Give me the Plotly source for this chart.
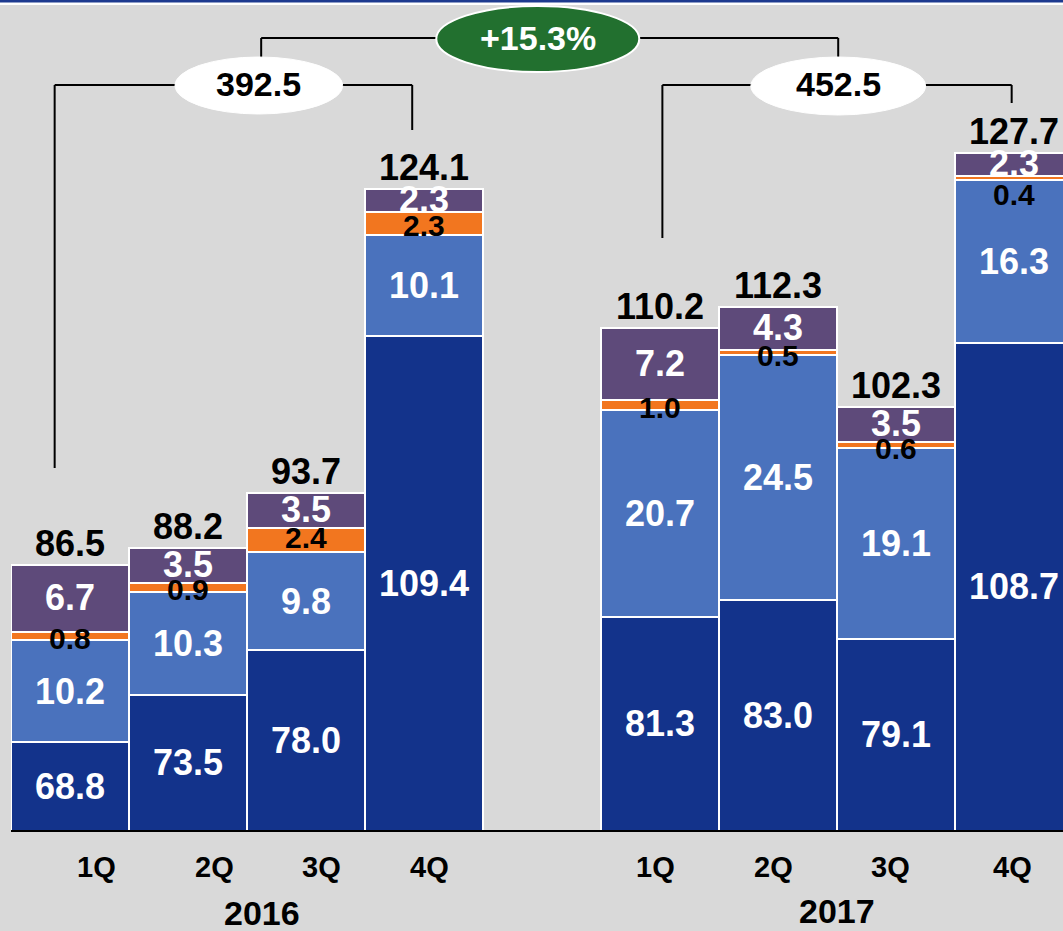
import plotly.graph_objects as go

# ---------------- data ----------------
quarters = ["1Q", "2Q", "3Q", "4Q", "1Q", "2Q", "3Q", "4Q"]
years = ["2016", "2017"]
navy = [68.8, 73.5, 78.0, 109.4, 81.3, 83.0, 79.1, 108.7]
lightblue = [10.2, 10.3, 9.8, 10.1, 20.7, 24.5, 19.1, 16.3]
orange = [0.8, 0.9, 2.4, 2.3, 1.0, 0.5, 0.6, 0.4]
purple = [6.7, 3.5, 3.5, 2.3, 7.2, 4.3, 3.5, 2.3]
totals = [86.5, 88.2, 93.7, 124.1, 110.2, 112.3, 102.3, 127.7]
annual_totals = [392.5, 452.5]
growth_label = "+15.3%"

# ---------------- layout helpers ----------------
slots = [0, 1, 2, 3, 5, 6, 7, 8]          # one empty slot between years
Y0 = 60                                    # truncated axis base
C_NAVY, C_LB, C_OR, C_PU = "#13338b", "#4a72bd", "#f2761f", "#5e4a7a"
BG = "#d9d9d9"
FONT = "Liberation Sans, Arial, sans-serif"

fig = go.Figure()
for vals, col in [(navy, C_NAVY), (lightblue, C_LB), (orange, C_OR), (purple, C_PU)]:
    fig.add_trace(go.Bar(x=slots, y=vals, width=1, marker=dict(color=col, line=dict(color="white", width=2)),
                         showlegend=False, hoverinfo="skip"))

ann = []
def lab(x, y, t, color, size=36, yshift=0, xshift=0, xref="x", yref="y"):
    ann.append(dict(x=x, y=y, xref=xref, yref=yref, text=t, showarrow=False, xshift=xshift, yshift=yshift,
                    font=dict(family=FONT, size=size, color=color, weight="bold"), yanchor="middle", xanchor="center"))

orange_shift = [-2, -2, 3, -2, -2, -3, -3, -16]
for i, s in enumerate(slots):
    b0 = Y0
    t0 = navy[i]
    lab(s, (b0 + t0) / 2, f"{navy[i]:.1f}", "white")
    b1 = t0; t1 = b1 + lightblue[i]
    lab(s, (b1 + t1) / 2, f"{lightblue[i]:.1f}", "white")
    b2 = t1; t2 = b2 + orange[i]
    lab(s, (b2 + t2) / 2, f"{orange[i]:.1f}", "black", size=30, yshift=orange_shift[i])
    b3 = t2; t3 = b3 + purple[i]
    lab(s, (b3 + t3) / 2, f"{purple[i]:.1f}", "white", yshift=1)
    lab(s, totals[i], f"{totals[i]:.1f}", "black", yshift=22)

# quarter labels and years
q_xshift = [26, 26, 15, 5, -5, -5, -6, -2]
for i, s in enumerate(slots):
    lab(s, -0.044, quarters[i], "black", size=29, xshift=q_xshift[i], yref="paper")
lab(1.5, -0.10, years[0], "black", size=34, xshift=15, yref="paper")
lab(6.5, -0.097, years[1], "black", size=34, yref="paper")

# brackets
shapes = []
def line(x0, y0, x1, y1):
    shapes.append(dict(type="line", x0=x0, y0=y0, x1=x1, y1=y1, xref="x", yref="y",
                       line=dict(color="black", width=2)))

HY = 134.5
line(-0.13, 96.2, -0.13, HY); line(-0.13, HY, 2.9, HY); line(2.9, HY, 2.9, 130)
line(5.02, 119.2, 5.02, HY); line(5.02, HY, 7.98, HY); line(7.98, HY, 7.98, 132.7)
TY = 139.2
line(1.62, TY, 1.62, 136.5); line(1.62, TY, 6.51, TY); line(6.51, TY, 6.51, 136.5)

shapes.append(dict(type="circle", xref="x", yref="y", x0=0.89, x1=2.31, y0=131.6, y1=137.3,
                   fillcolor="white", line=dict(color="white", width=1)))
shapes.append(dict(type="circle", xref="x", yref="y", x0=5.77, x1=7.25, y0=131.5, y1=137.3,
                   fillcolor="white", line=dict(color="white", width=1)))
shapes.append(dict(type="circle", xref="x", yref="y", x0=3.104, x1=4.824, y0=135.8, y1=142.4,
                   fillcolor="#22702f", line=dict(color="white", width=2)))
lab(1.6, 134.5, f"{annual_totals[0]:.1f}", "black", size=34, yshift=1)
lab(6.51, 134.5, f"{annual_totals[1]:.1f}", "black", size=34, yshift=1)
lab(3.964, 139.1, growth_label, "white", size=34, yshift=1)

# top strip
shapes.append(dict(type="rect", xref="paper", yref="paper", x0=-0.02, x1=1.02, y0=1 - 5 / 830, y1=1,
                   fillcolor="white", line=dict(width=0)))
shapes.append(dict(type="rect", xref="paper", yref="paper", x0=-0.02, x1=1.02, y0=1 - 2.5 / 830, y1=1,
                   fillcolor="#1d3a8f", line=dict(width=0)))

fig.update_layout(
    width=1063, height=931, barmode="stack", bargap=0,
    margin=dict(l=11, r=0, t=0, b=101),
    paper_bgcolor=BG, plot_bgcolor=BG,
    xaxis=dict(range=[-0.5, 8.415], showticklabels=False, showgrid=False, zeroline=False,
               showline=True, linecolor="black", linewidth=2, fixedrange=True),
    yaxis=dict(range=[Y0, 143], visible=False, showgrid=False, fixedrange=True),
    annotations=ann, shapes=shapes,
)
fig.write_html("out.html")
